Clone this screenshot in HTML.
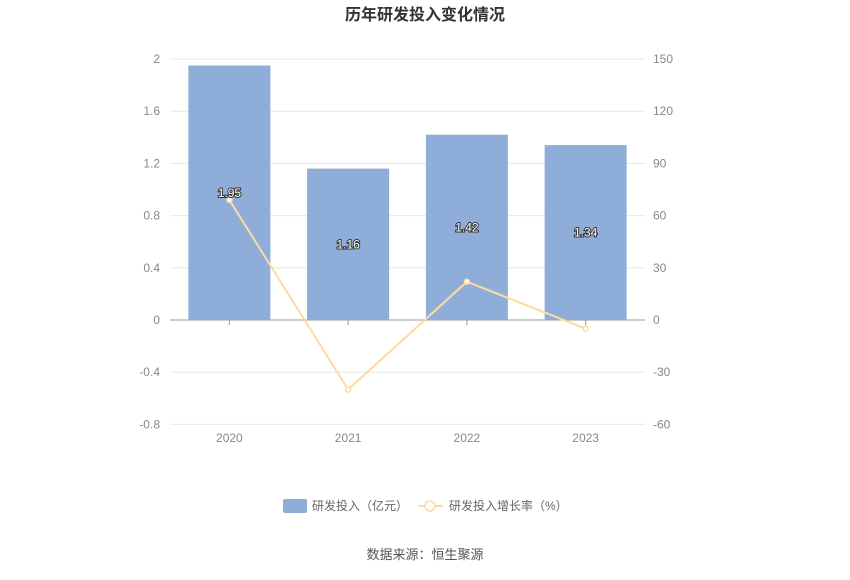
<!DOCTYPE html>
<html><head><meta charset="utf-8"><style>
body{margin:0;background:#fff;}
svg text{font-family:"Liberation Sans","Noto Sans CJK SC",sans-serif;}
</style></head><body>
<svg width="850" height="575">
<text x="425" y="20" text-anchor="middle" font-size="16" font-weight="bold" fill="#333">历年研发投入变化情况</text>
<g id="grid"></g><g id="bars"></g><g id="line"></g><g id="labels"></g>
<g>
<rect x="283" y="499" width="24" height="14" rx="2" fill="#8eadd9"/>
<text x="312" y="510" font-size="12" fill="#666">研发投入（亿元）</text>
<line x1="418" y1="506" x2="443" y2="506" stroke="#fddba0" stroke-width="2"/>
<circle cx="430" cy="506" r="5" fill="#fff" stroke="#fddba0" stroke-width="1.5"/>
<text x="449" y="510" font-size="12" fill="#666">研发投入增长率（%）</text>
</g>
<text x="425" y="559" text-anchor="middle" font-size="13" fill="#555">数据来源：恒生聚源</text>
</svg>
<script>
const categories=["2020","2021","2022","2023"];
const investValues=[1.95,1.16,1.42,1.34];
const growthValues=[69,-40,22,-5];
const leftTicks=[2,1.6,1.2,0.8,0.4,0,-0.4,-0.8];
const rightTicks=[150,120,90,60,30,0,-30,-60];
const NS="http://www.w3.org/2000/svg";
const X0=170,X1=645,Y0=320;
const yL=v=>Y0-v/0.4*52.2;
const yR=v=>Y0-v/30*52.2;
const bw=(X1-X0)/categories.length;
const xc=i=>X0+bw*(i+0.5);
function mk(t,a,p,txt){const e=document.createElementNS(NS,t);for(const k in a)e.setAttribute(k,a[k]);if(txt!==undefined)e.textContent=txt;document.getElementById(p).appendChild(e);return e;}
leftTicks.forEach((v,i)=>{
 const l=mk('line',{x1:X0,x2:X1,y1:yL(v),y2:yL(v),stroke:v===0?'#999':'#e6e8ef','stroke-width':1},'grid');
 
 
 const t=mk('text',{x:X0-10,y:yL(v)+4,'text-anchor':'end','font-size':12,fill:'#888'},'grid',String(v));
 
 
});
rightTicks.forEach(v=>{
 const t=mk('text',{x:X1+8,y:yR(v)+4,'font-size':12,fill:'#888'},'grid',String(v));
 
 
});
categories.forEach((c,i)=>{
 const tk=mk('line',{x1:xc(i),x2:xc(i),y1:Y0,y2:Y0+5,stroke:'#999'},'grid');
 
 
 const t=mk('text',{x:xc(i),y:442,'text-anchor':'middle','font-size':12,fill:'#888'},'grid',c);
 
 
 const v=investValues[i];
 const r=mk('rect',{x:xc(i)-41,y:yL(v),width:82,height:Y0-yL(v),fill:'#8eadd9'},'bars');
 
 
 const lb=mk('text',{x:xc(i),y:(yL(v)+Y0)/2+4,'text-anchor':'middle','font-size':12,fill:'#fff',stroke:'#333','stroke-width':2,'paint-order':'stroke'},'labels',v.toFixed(2));
 
 
});
const pts=growthValues.map((v,i)=>xc(i)+','+yR(v)).join(' ');
const pl=mk('polyline',{points:pts,fill:'none',stroke:'#fddba0','stroke-width':2},'line');


growthValues.forEach((v,i)=>{
 const c=mk('circle',{cx:xc(i),cy:yR(v),r:2.5,fill:'#fff',stroke:'#fddba0','stroke-width':1.5},'line');
 
 
});
</script>
</body></html>
